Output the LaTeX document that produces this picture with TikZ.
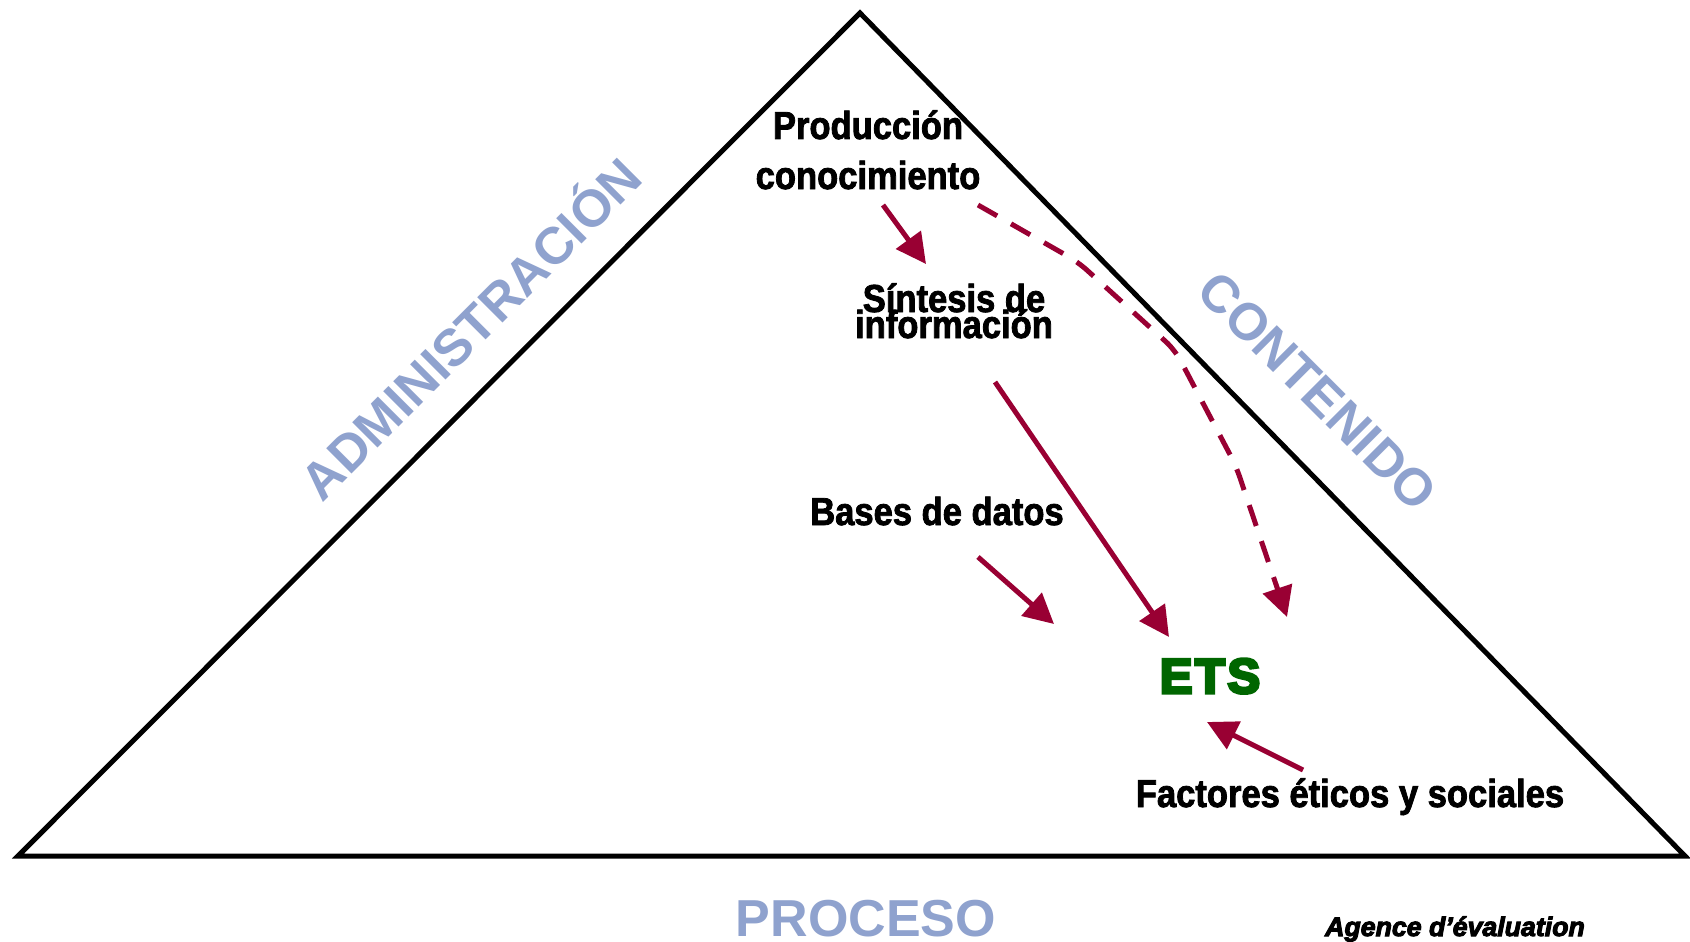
\documentclass[tikz,border=0pt]{standalone}
\usepackage{fontspec}
\setmainfont{Liberation Sans}
\newfontfamily\narrowfont{Liberation Sans}[FakeStretch=0.886]
\newfontfamily\etsfont{Liberation Sans}
\newfontfamily\agfont{Liberation Sans}
\usetikzlibrary{arrows.meta}
\definecolor{burg}{RGB}{153,0,51}
\definecolor{axisblue}{RGB}{143,162,206}
\definecolor{etsgreen}{RGB}{0,102,0}
\newcommand{\heavytext}[2]{\special{pdf:literal direct 2 Tr #1 w}#2\special{pdf:literal direct 0 Tr}}
\tikzset{
  lbl/.style={inner sep=0pt, anchor=base, font=\narrowfont\bfseries\fontsize{39}{47}\selectfont},
  axislbl/.style={inner sep=0pt, anchor=base, text=axisblue, font=\bfseries\fontsize{52}{60}\selectfont},
  arr/.style={draw=burg, line width=5pt, -{Triangle[length=30pt,width=30pt]}},
  dasharr/.style={arr, dash pattern=on 22pt off 16pt, rounded corners=12pt},
  tri/.style={draw=black, line width=5pt, line join=miter}
}
\begin{document}
\begin{tikzpicture}[x=1pt,y=-1pt]
\useasboundingbox (0,0) rectangle (1690,942);
\fill[white] (0,0) rectangle (1690,942);
% triangle
\draw[tri] (18,856) -- (860,13) -- (1685,856) -- cycle;
% axis labels
\node[axislbl, rotate=45] (admin) at (484,342) {ADMINISTRACIÓN};
\node[axislbl, rotate=-45] (cont) at (1305,404) {CONTENIDO};
\node[axislbl] (proc) at (866,936) {PROCESO};
% text labels
\node[lbl] (prodA) at (868,139) {\heavytext{0.8}{Producción}};
\node[lbl] (prodB) at (868,189) {\heavytext{0.8}{conocimiento}};
\node[lbl] (sintA) at (954,312) {\heavytext{0.8}{Síntesis de}};
\node[lbl] (sintB) at (954,338) {\heavytext{0.8}{información}};
\node[lbl] (bases) at (937,525) {\heavytext{0.8}{Bases de datos}};
\node[lbl] (fact) at (1350,807) {\heavytext{0.8}{Factores éticos y sociales}};
\node[inner sep=0pt, anchor=base, text=etsgreen, font=\etsfont\bfseries\fontsize{49}{60}\selectfont] (ets) at (1210,693) {\heavytext{3}{E\kern2.5pt T\kern2.5pt S}};
\node[inner sep=0pt, anchor=base, font=\agfont\bfseries\itshape\fontsize{26.7}{30}\selectfont] (agence) at (1455,936) {\heavytext{1}{Agence d’évaluation}};
% arrow end points
\coordinate (p1s) at (883,205);
\coordinate (p1e) at (926,264);
\coordinate (p2s) at (995,382);
\coordinate (p2e) at (1169,637);
\coordinate (p3s) at (978,557);
\coordinate (p3e) at (1054,624);
\coordinate (p4s) at (978,205);
\coordinate (p4e) at (1287,617);
\coordinate (p5s) at (1303,770);
\coordinate (p5e) at (1207,722);
% arrows
\draw[arr] (p1s) -- (p1e);
\draw[arr] (p2s) -- (p2e);
\draw[arr] (p3s) -- (p3e);
\draw[dasharr] (p4s) -- (1078,262) -- (1175,350) -- (1236,466) -- (p4e);
\draw[arr] (p5s) -- (p5e);
\end{tikzpicture}
\end{document}
